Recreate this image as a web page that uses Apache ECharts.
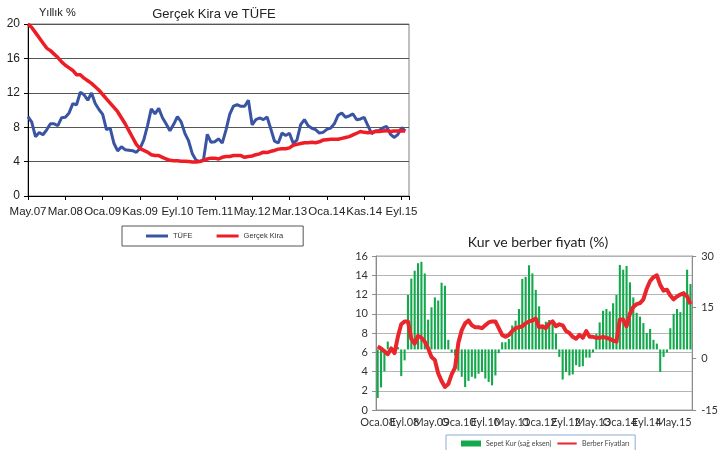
<!DOCTYPE html>
<html>
<head>
<meta charset="utf-8">
<script src="https://cdn.jsdelivr.net/npm/echarts@6/dist/echarts.min.js"></script>
<style>
  html, body { margin: 0; padding: 0; background: #fff; }
  #chart { width: 721px; height: 450px; }
</style>
</head>
<body>
<div id="chart"></div>
<script>
// ay kısaltmaları (etiketler için)
const ayKisa = ['Oca', 'Şub', 'Mar', 'Nis', 'May', 'Haz', 'Tem', 'Ağu', 'Eyl', 'Eki', 'Kas', 'Ara']

// Gerçek Kira ve TÜFE: May.07 - Eki.15 (eksen Kas.15'e kadar)
const tufe = [
  9.23, 8.60, 6.90, 7.39, 7.12, 7.70, 8.40, 8.39,
  8.17, 9.10, 9.15, 9.66, 10.74, 10.61, 12.06, 11.77, 11.13, 11.99, 10.76, 10.06,
  9.50, 7.73, 7.89, 6.13, 5.24, 5.73, 5.39, 5.33, 5.27, 5.08, 5.53, 6.53,
  8.19, 10.13, 9.56, 10.19, 9.10, 8.37, 7.58, 8.33, 9.24, 8.62, 7.29, 6.40,
  4.90, 4.16, 3.99, 4.26, 7.17, 6.24, 6.31, 6.65, 6.15, 7.66, 9.48, 10.45,
  10.61, 10.43, 10.43, 11.14, 8.28, 8.87, 9.07, 8.88, 9.19, 7.80, 6.37, 6.16,
  7.31, 7.03, 7.29, 6.13, 6.51, 8.30, 8.88, 8.17, 7.88, 7.71, 7.32, 7.40,
  7.75, 7.89, 8.39, 9.38, 9.66, 9.16, 9.32, 9.54, 8.86, 8.96, 9.15, 8.17,
  7.24, 7.55, 7.61, 7.91, 8.09, 7.20, 6.81, 7.14, 7.95, 7.58
]
const gercekKira = [
  20.0, 19.6, 19.0, 18.4, 17.8, 17.2, 16.9, 16.5,
  16.1, 15.6, 15.2, 14.9, 14.6, 14.1, 14.1, 13.7, 13.4, 13.1, 12.7, 12.3,
  11.8, 11.3, 10.8, 10.3, 9.8, 9.1, 8.4, 7.6, 6.8, 6.0, 5.5, 5.3,
  5.1, 4.8, 4.7, 4.7, 4.5, 4.3, 4.15, 4.1, 4.1, 4.05, 4.05, 4.0,
  3.95, 3.95, 4.0, 4.15, 4.3, 4.4, 4.4, 4.3, 4.5, 4.6, 4.6, 4.7,
  4.7, 4.7, 4.5, 4.6, 4.65, 4.8, 4.9, 5.1, 5.05, 5.2, 5.3, 5.45,
  5.5, 5.5, 5.6, 5.9, 6.0, 6.1, 6.2, 6.2, 6.25, 6.2, 6.3, 6.5,
  6.55, 6.6, 6.6, 6.6, 6.7, 6.8, 6.9, 7.1, 7.3, 7.5, 7.4, 7.35,
  7.4, 7.5, 7.5, 7.55, 7.6, 7.5, 7.55, 7.55, 7.6, 7.55
]

// Kur ve berber fiyatı: Oca.08 - Eki.15
const sepetKur = [
  -11.5, -8.4, -3.7, 5.0, 3.4, 3.0, 3.4, -5.1, -0.5, 18.6, 23.4, 25.7,
  27.9, 28.3, 24.9, 11.4, 15.0, 17.9, 17.0, 22.2, 21.3, 5.5, 1.8, 0.9,
  -3.5, -5.3, -8.3, -6.5, -5.3, -5.8, -4.4, -3.9, -5.8, -6.8, -7.8, -4.9,
  1.6, 4.8, 4.8, 5.8, 9.7, 11.1, 14.5, 23.3, 23.9, 27.3, 24.9, 20.1,
  15.3, 9.7, 10.8, 11.3, 10.6, 7.3, 0.5, -6.1, -3.9, -4.9, -4.6, -1.9,
  -2.4, -2.2, 0.3, 0.3, 1.8, 7.3, 10.6, 14.0, 14.5, 13.8, 16.2, 18.6,
  27.4, 26.0, 27.1, 22.3, 17.9, 13.4, 12.3, 10.4, 7.5, 8.7, 5.5, 4.4,
  -3.9, 0.5, 1.8, 8.9, 13.1, 14.5, 13.6, 19.7, 26.0, 21.8
]
const berberFiyat = [
  6.6, 6.4, 6.1, 5.8, 6.4, 5.9, 7.6, 8.9, 9.2, 9.2, 7.4, 6.9,
  7.7, 7.5, 7.1, 6.4, 5.5, 5.2, 3.8, 3.0, 2.4, 2.7, 3.7, 4.4,
  7.0, 8.3, 9.0, 9.3, 8.8, 8.6, 8.6, 8.5, 8.8, 9.1, 9.2, 9.2,
  8.5, 7.8, 7.6, 7.8, 8.2, 8.5, 8.6, 8.7, 9.0, 9.2, 9.3, 9.5,
  8.6, 8.7, 8.5, 9.0, 9.2, 8.7, 8.9, 8.8, 8.2, 8.0, 7.6, 7.4,
  7.8, 7.5, 8.2, 7.6, 7.6, 7.5, 7.5, 7.6, 7.5, 7.4, 7.2, 7.1,
  9.4, 9.4, 8.7, 10.0, 10.7, 11.0, 11.1, 11.5, 12.6, 13.4, 13.8, 14.0,
  13.0, 12.4, 12.5, 11.9, 11.5, 11.8, 12.0, 12.1, 11.8, 11.0
]
// orijinalde sütunlar sağ eksende 0'dan değil bu değerden başlıyor
const KUR_BASE = 2.7

function aylar(yil, ay, adet) {
  const out = []
  for (let i = 0; i < adet; i++) {
    const m = (ay + i) % 12
    const y = yil + Math.floor((ay + i) / 12)
    out.push(ayKisa[m] + '.' + String(y % 100).padStart(2, '0'))
  }
  return out
}
const kiraAylar = aylar(2007, 4, 103)
const kurAylar = aylar(2008, 0, 94)

const arial = 'Liberation Sans'
const calibri = 'Lato'
// ince çizgi lejant ikonu (kutu yüksekliği korunsun diye uçlarda görünmez şeritler)
const cizgiIkon = 'path://M0,0L20,0L20,0.01L0,0.01Z M0,2L20,2L20,4.2L0,4.2Z M0,6.2L20,6.2L20,6.21L0,6.21Z'

// interval: 0 + formatter -> ECharts uçtaki üst üste binen etiketleri gizlemez
function herN(n) {
  return (v, i) => (i % n === 0 ? v : '')
}

const chart = echarts.init(document.getElementById('chart'))
const option = {
  animation: false,
  backgroundColor: '#fff',
  graphic: [
    { type: 'text', x: 214, y: 14, style: { text: 'Gerçek Kira ve TÜFE', font: '13px "Liberation Sans"', fill: '#222', align: 'center', verticalAlign: 'middle' } },
    { type: 'text', x: 39, y: 13, style: { text: 'Yıllık %', font: '11px "Liberation Sans"', fill: '#222', align: 'left', verticalAlign: 'middle' } },
    { type: 'text', x: 538, y: 242, style: { text: 'Kur ve berber fiyatı (%)', font: '14px Lato', fill: '#222', align: 'center', verticalAlign: 'middle' } }
  ],
  legend: [
    {
      data: [{ name: 'TÜFE', icon: 'rect' }, { name: 'Gerçek Kira', icon: 'rect' }],
      left: 122, top: 226,
      itemWidth: 22, itemHeight: 3, itemGap: 24,
      padding: [6, 20, 6, 24],
      borderColor: '#555', borderWidth: 1,
      textStyle: { fontSize: 7.5, fontFamily: arial, color: '#333' }
    },
    {
      data: [{ name: 'Sepet Kur (sağ eksen)', icon: 'rect' }, { name: 'Berber Fiyatları', icon: cizgiIkon }],
      left: 446, top: 435,
      itemWidth: 20, itemHeight: 6, itemGap: 6,
      padding: [5, 6, 10, 15],
      borderColor: '#8ea9d4', borderWidth: 1,
      textStyle: { fontSize: 7, fontFamily: calibri, color: '#444' }
    }
  ],
  grid: [
    { left: 28, right: 312, top: 24, bottom: 254, show: true, borderColor: '#808080', borderWidth: 1 },
    { left: 376, right: 19, top: 256, bottom: 40, show: true, borderColor: '#a6a6a6', borderWidth: 1 }
  ],
  xAxis: [
    {
      type: 'category', gridIndex: 0, data: kiraAylar, boundaryGap: false,
      axisLine: { lineStyle: { color: '#000', width: 1 } },
      axisTick: { interval: 9, length: 4, lineStyle: { color: '#000' } },
      axisLabel: { interval: 0, formatter: herN(10), fontSize: 11.5, fontFamily: arial, color: '#222', margin: 10 }
    },
    {
      type: 'category', gridIndex: 1, data: kurAylar, boundaryGap: true,
      axisLine: { lineStyle: { color: '#8c8c8c' } },
      axisTick: { interval: 7, length: 4, lineStyle: { color: '#8c8c8c' } },
      axisLabel: { interval: 0, formatter: herN(8), fontSize: 11, fontFamily: calibri, color: '#333', margin: 7 }
    }
  ],
  yAxis: [
    {
      type: 'value', gridIndex: 0, min: 0, max: 20, interval: 4,
      axisLine: { show: true, lineStyle: { color: '#000' } },
      axisTick: { show: true, length: 4, lineStyle: { color: '#000' } },
      axisLabel: { fontSize: 12, fontFamily: arial, color: '#222', margin: 8 },
      splitLine: { lineStyle: { color: '#555' } }
    },
    {
      type: 'value', gridIndex: 1, min: 0, max: 16, interval: 2,
      axisLine: { show: true, lineStyle: { color: '#8c8c8c' } },
      axisTick: { show: true, length: 4, lineStyle: { color: '#8c8c8c' } },
      axisLabel: { fontSize: 11, fontFamily: calibri, color: '#333', margin: 8 },
      splitLine: { lineStyle: { color: '#b5b5b5' } }
    },
    {
      type: 'value', gridIndex: 1, position: 'right', min: -15, max: 30, interval: 15,
      axisLine: { show: true, lineStyle: { color: '#8c8c8c' } },
      axisTick: { show: true, length: 4, lineStyle: { color: '#8c8c8c' } },
      axisLabel: { fontSize: 11, fontFamily: calibri, color: '#333', margin: 9 },
      splitLine: { show: false }
    },
    {
      // sütunlar için gizli eksen: sağ eksenle aynı ölçek, taban KUR_BASE
      type: 'value', gridIndex: 1, show: false,
      min: -15 - KUR_BASE, max: 30 - KUR_BASE
    }
  ],
  series: [
    {
      name: 'TÜFE', type: 'line', xAxisIndex: 0, yAxisIndex: 0,
      data: tufe, symbol: 'none',
      lineStyle: { width: 3, color: '#3a54a4' }, itemStyle: { color: '#3a54a4' }
    },
    {
      name: 'Gerçek Kira', type: 'line', xAxisIndex: 0, yAxisIndex: 0,
      data: gercekKira, symbol: 'none',
      lineStyle: { width: 3.5, color: '#ee1c24' }, itemStyle: { color: '#ee1c24' }
    },
    {
      name: 'Sepet Kur (sağ eksen)', type: 'bar', xAxisIndex: 1, yAxisIndex: 3,
      data: sepetKur.map(v => +(v - KUR_BASE).toFixed(2)),
      barWidth: '62%',
      itemStyle: { color: '#14a84c' }
    },
    {
      name: 'Berber Fiyatları', type: 'line', xAxisIndex: 1, yAxisIndex: 1,
      data: berberFiyat, symbol: 'none',
      lineStyle: { width: 4, color: '#e8262b', join: 'round' }, itemStyle: { color: '#e8262b' }
    }
  ]
}
chart.setOption(option)
</script>
</body>
</html>
